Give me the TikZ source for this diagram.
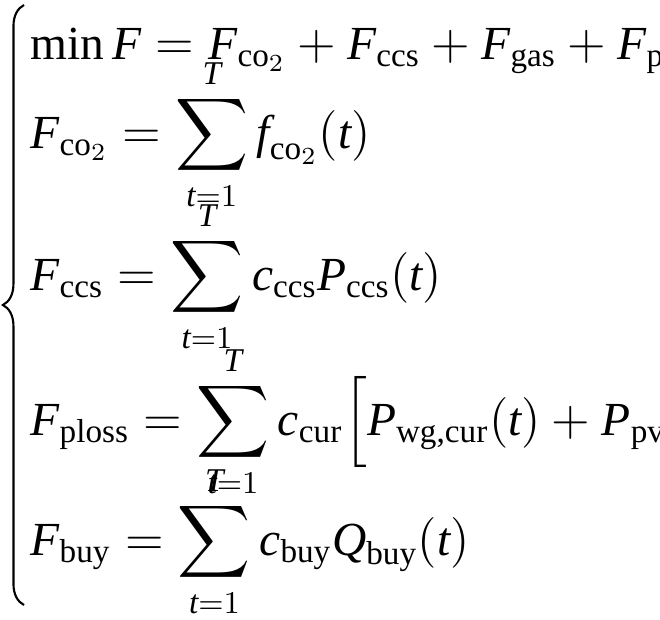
\documentclass[tikz,border=0pt]{standalone}
\usepackage{amsmath}
\usepackage{fontspec}
\setmainfont{Liberation Serif}
\usetikzlibrary{decorations.pathreplacing}
\tikzset{eqline/.style={anchor=base west, inner sep=0pt, font=\fontsize{13.5}{16}\selectfont}}
\newcommand{\rmsub}[1]{_{\text{\upshape #1}}}
\newcommand{\iv}[1]{\text{\itshape #1}}
\begin{document}
\begin{tikzpicture}[x=0.1cm,y=-0.1cm]
\useasboundingbox (0,0) rectangle (66,62);
\node[eqline] (objective) at (3,5.9) {$\text{min}\,\iv{F} = \iv{F}\rmsub{co$_2$}+\iv{F}\rmsub{ccs}+\iv{F}\rmsub{gas}+\iv{F}\rmsub{ploss}$};
\node[eqline] (co2) at (3,14.8) {$\displaystyle \iv{F}\rmsub{co$_2$}=\sum_{\iv{t}=1}^{\iv{T}} \iv{f}\rmsub{co$_2$}(\iv{t})$};
\node[eqline] (ccs) at (3,29.0) {$\displaystyle \iv{F}\rmsub{ccs}=\sum_{\iv{t}=1}^{\iv{T}} \iv{c}\rmsub{ccs}\iv{P}\rmsub{ccs}(\iv{t})$};
\node[eqline] (ploss) at (3,43.5) {$\displaystyle \iv{F}\rmsub{ploss}=\sum_{\iv{t}=1}^{\iv{T}} \iv{c}\rmsub{cur}\Big[\iv{P}\rmsub{wg,cur}(\iv{t})+\iv{P}\rmsub{pv,cur}(\iv{t})\Big]$};
\node[eqline] (buy) at (3,55.5) {$\displaystyle \iv{F}\rmsub{buy}=\sum_{\iv{t}=1}^{\iv{T}} \iv{c}\rmsub{buy}\iv{Q}\rmsub{buy}(\iv{t})$};
\draw[decoration={brace,amplitude=6pt},decorate,line width=0.6pt] (2.4,60.5) -- (2.4,0.5);
\end{tikzpicture}
\end{document}
